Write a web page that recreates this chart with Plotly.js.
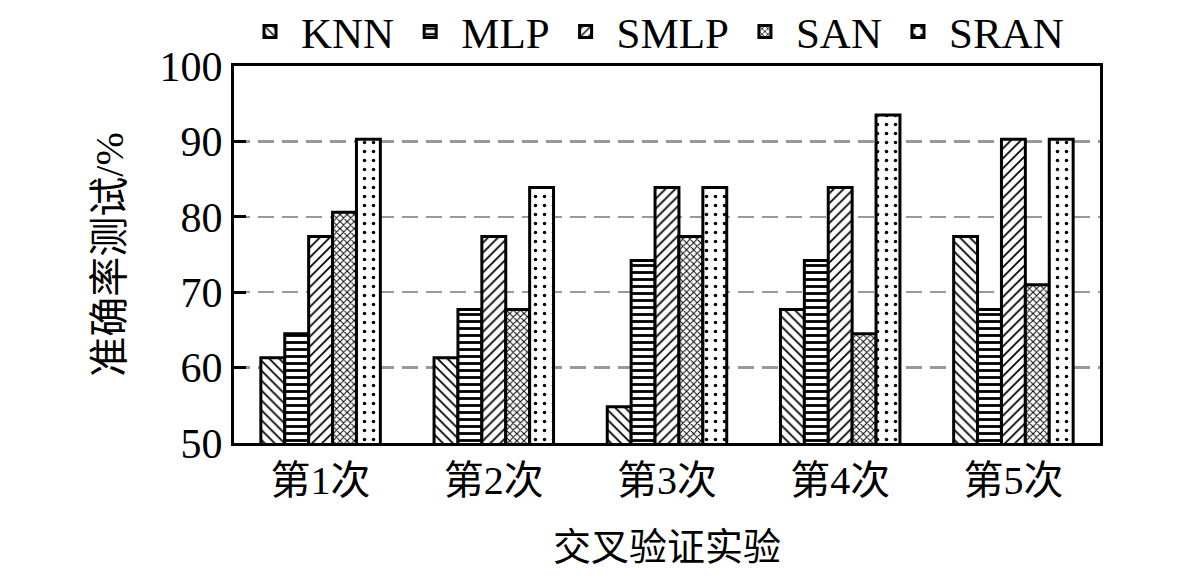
<!DOCTYPE html>
<html>
<head>
<meta charset="utf-8">
<script src="https://cdn.plot.ly/plotly-3.0.1.min.js"></script>
<style>
  html, body { margin: 0; padding: 0; background: #fff; }
  #chart { width: 1181px; height: 578px; }
</style>
</head>
<body>
<div id="chart"></div>
<script>
// values (accuracy %, steps look like 1/31)
const rounds = ["第1次", "第2次", "第3次", "第4次", "第5次"];
const knn  = [61.3, 61.3, 54.8, 67.7, 77.4];
const mlp  = [64.5, 67.7, 74.2, 74.2, 67.7];
const smlp = [77.4, 77.4, 83.9, 83.9, 90.3];
const san  = [80.6, 67.7, 77.4, 64.5, 71.0];
const sran = [90.3, 83.9, 83.9, 93.5, 90.3];

const font = "Liberation Serif, Times New Roman, Noto Sans CJK SC, serif";

function series(name, y, shape, size, solidity) {
  return {
    type: 'bar',
    name: name,
    x: rounds,
    y: y,
    marker: {
      color: 'white',
      line: { color: 'black', width: 3 },
      pattern: { shape: shape, fgcolor: 'black', bgcolor: 'white', size: size, solidity: solidity }
    }
  };
}

const traces = [
  series('KNN', knn, '\\', 7, 0.25),
  series('MLP', mlp, '-', 7, 0.4),
  series('SMLP', smlp, '/', 7, 0.25),
  series('SAN', san, 'x', 5, 0.35),
  series('SRAN', sran, '.', 9, 0.12)
];

const layout = {
  width: 1181,
  height: 578,
  margin: { l: 234, r: 81, t: 66, b: 135, autoexpand: false },
  paper_bgcolor: 'white',
  plot_bgcolor: 'white',
  font: { family: font, color: 'black', size: 40 },
  barmode: 'group',
  bargap: 0.31,
  bargroupgap: 0,
  showlegend: true,
  legend: {
    orientation: 'h',
    x: 0.485, xanchor: 'center',
    y: 1.0, yanchor: 'bottom',
    bgcolor: 'rgba(0,0,0,0)',
    font: { family: font, size: 43 },
    itemwidth: 52,
    tracegroupgap: 0
  },
  xaxis: {
    showline: true, linecolor: 'black', linewidth: 3,
    mirror: true,
    ticks: '',
    tickfont: { family: font, size: 40 },
    title: { text: '交叉验证实验', font: { family: font, size: 38 }, standoff: 32 }
  },
  yaxis: {
    range: [50, 100],
    dtick: 10,
    showline: true, linecolor: 'black', linewidth: 3,
    mirror: true,
    ticks: 'inside', ticklen: 12, tickwidth: 3, tickcolor: 'black',
    tickfont: { family: font, size: 42 },
    showgrid: true, gridcolor: '#999', gridwidth: 2.5, griddash: '16px,8px',
    zeroline: false,
    title: { text: '准确率测试/%', font: { family: font, size: 40 }, standoff: 24 }
  }
};

Plotly.newPlot('chart', traces, layout, { displayModeBar: false, staticPlot: true });
</script>
</body>
</html>
